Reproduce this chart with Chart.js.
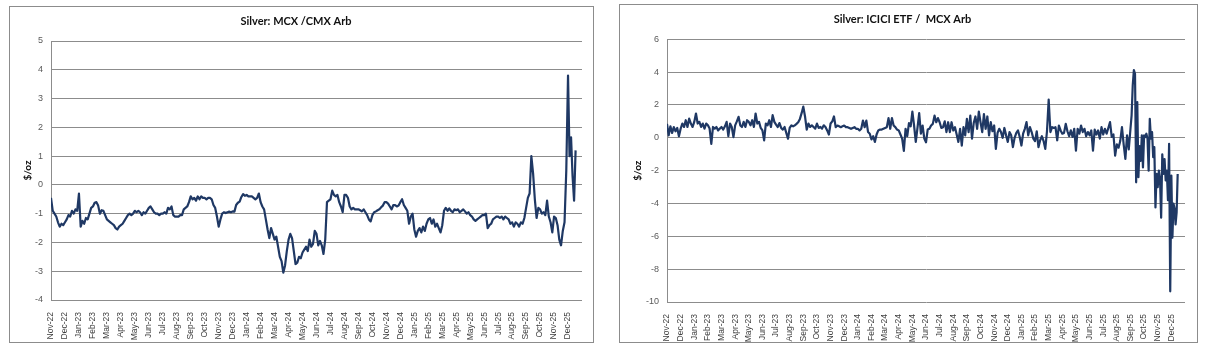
<!DOCTYPE html>
<html><head><meta charset="utf-8">
<script src="https://cdn.jsdelivr.net/npm/chart.js@4.4.1/dist/chart.umd.min.js"></script>
<style>
html,body{margin:0;padding:0;background:#fff;width:1213px;height:355px;overflow:hidden;}
.frame{position:absolute;border:1px solid #8c8c8c;background:#fff;}
#f1{left:9px;top:6px;width:583px;height:335px;}
#f2{left:619px;top:4px;width:577px;height:337px;}
canvas{display:block;}
</style></head><body>
<div class="frame" id="f1"><canvas id="c1" width="583" height="335"></canvas></div>
<div class="frame" id="f2"><canvas id="c2" width="577" height="337"></canvas></div>
<script>
const monthLabels = ['Nov-22','Dec-22','Jan-23','Feb-23','Mar-23','Apr-23','May-23','Jun-23','Jul-23','Aug-23','Sep-23','Oct-23',
  'Nov-23','Dec-23','Jan-24','Feb-24','Mar-24','Apr-24','May-24','Jun-24','Jul-24','Aug-24','Sep-24','Oct-24',
  'Nov-24','Dec-24','Jan-25','Feb-25','Mar-25','Apr-25','May-25','Jun-25','Jul-25','Aug-25','Sep-25','Oct-25','Nov-25','Dec-25'];

// Silver: MCX / CMX Arb ($/oz), values per month (Nov-22 .. Dec-25)
const mcxCmxArb = [
  [-0.45,-0.9,-1.0,-1.1,-1.3,-1.45,-1.35,-1.4],
  [-1.3,-1.2,-1.05,-1.1,-0.9,-1.0,-0.85,-0.9],
  [-0.3,-1.45,-1.25,-1.35,-1.15,-1.2,-1.0,-0.8],
  [-0.75,-0.62,-0.6,-0.72,-1.0,-0.88,-0.9,-1.05],
  [-1.2,-1.25,-1.3,-1.35,-1.4,-1.5,-1.55,-1.45],
  [-1.4,-1.35,-1.25,-1.15,-1.05,-1.0,-1.05,-1.0],
  [-0.9,-0.95,-0.9,-0.95,-1.05,-0.95,-1.0,-0.9],
  [-0.8,-0.75,-0.85,-0.95,-1.0,-1.0,-1.05,-1.0],
  [-1.0,-0.95,-1.0,-0.8,-0.85,-0.75,-1.05,-1.1],
  [-1.1,-1.1,-1.05,-1.05,-0.85,-0.8,-0.75,-0.6],
  [-0.4,-0.5,-0.45,-0.55,-0.4,-0.5,-0.4,-0.45],
  [-0.45,-0.5,-0.45,-0.45,-0.5,-0.7,-0.8,-1.1],
  [-1.45,-1.2,-1.0,-0.95,-0.98,-0.95,-0.93,-0.95],
  [-0.92,-0.93,-0.7,-0.62,-0.58,-0.42,-0.32,-0.38],
  [-0.35,-0.4,-0.4,-0.4,-0.45,-0.5,-0.45,-0.3],
  [-0.6,-0.75,-0.85,-1.2,-1.55,-1.85,-1.5,-1.7],
  [-1.9,-1.8,-2.15,-2.5,-2.65,-3.05,-2.8,-2.3],
  [-1.9,-1.7,-1.85,-2.3,-2.75,-2.7,-2.5,-2.55],
  [-2.35,-2.25,-2.15,-2.3,-1.9,-2.15,-2.05,-1.6],
  [-1.7,-2.1,-1.95,-2.1,-2.4,-1.9,-0.6,-0.55],
  [-0.5,-0.2,-0.35,-0.4,-0.35,-0.6,-0.75,-0.95],
  [-0.35,-0.35,-0.45,-0.75,-0.85,-0.8,-0.85,-0.85],
  [-0.85,-0.88,-0.92,-0.85,-0.95,-1.05,-1.2,-1.27],
  [-1.05,-0.95,-0.92,-0.88,-0.85,-0.78,-0.72,-0.6],
  [-0.6,-0.65,-0.75,-0.85,-0.7,-0.7,-0.75,-0.72],
  [-0.6,-0.5,-0.7,-0.8,-0.9,-1.35,-1.1,-1.0],
  [-1.55,-1.8,-1.6,-1.5,-1.65,-1.45,-1.6,-1.35],
  [-1.2,-1.15,-1.35,-1.2,-1.45,-1.35,-1.5,-1.65],
  [-1.4,-0.9,-0.8,-0.9,-0.82,-0.9,-0.95,-0.85],
  [-0.88,-0.85,-0.95,-0.9,-0.85,-0.92,-1.0,-0.95],
  [-1.05,-1.1,-1.2,-1.25,-1.2,-1.15,-1.1,-1.05],
  [-1.05,-1.0,-1.5,-1.4,-1.35,-1.2,-1.15,-1.1],
  [-1.1,-1.15,-1.1,-1.2,-1.1,-1.15,-1.2,-1.35],
  [-1.3,-1.45,-1.3,-1.35,-1.45,-1.3,-1.35,-1.15],
  [-0.8,-0.45,-0.3,1.0,0.4,-0.5,-1.15,-0.8],
  [-0.85,-1.0,-0.95,-1.05,-0.55,-1.1,-1.3,-1.65],
  [-1.1,-1.15,-1.4,-1.9,-2.1,-1.6,-1.3,0.5],
  [3.8,1.0,1.65,0.3,-0.55,1.2]
];

// Silver: ICICI ETF / MCX Arb ($/oz), values per month (Nov-22 .. Dec-25)
const iciciMcxArb = [
  [0.85,0.15,0.7,0.3,0.65,0.4,0.6,0.1],
  [0.55,0.87,0.66,1.07,0.66,1.17,0.87,0.66],
  [0.97,1.48,0.87,0.97,0.66,0.87,0.56,0.87],
  [0.76,0.56,-0.37,0.66,0.56,0.66,0.45,0.56],
  [0.66,0.5,0.7,0.97,0.1,0.87,0.66,0.04],
  [0.76,1.0,1.28,0.76,0.66,0.97,0.66,1.07],
  [0.97,0.76,1.07,0.66,1.48,0.87,0.97,0.6],
  [0.45,-0.16,0.87,0.76,1.07,0.66,1.38,0.97],
  [0.8,0.66,0.9,0.6,0.5,0.66,0.3,-0.06],
  [0.6,0.76,0.7,0.76,0.85,0.95,1.15,1.5],
  [1.9,1.3,0.5,0.87,0.66,0.76,0.66,0.56],
  [0.87,0.6,0.66,0.56,0.76,0.66,0.45,0.2],
  [0.87,1.0,1.3,0.65,0.75,0.7,0.65,0.7],
  [0.75,0.65,0.65,0.6,0.55,0.6,0.65,0.55],
  [0.55,0.45,0.55,1.05,0.65,1.05,0.35,0.25],
  [-0.1,0.1,-0.25,0.2,0.45,0.5,0.5,0.55],
  [0.6,0.65,1.2,0.55,1.2,0.75,0.65,0.5],
  [0.45,0.2,-0.05,-0.8,0.55,0.1,0.9,0.7],
  [1.6,0.75,-0.25,0.6,1.5,0.25,0.75,-0.05],
  [-0.27,0.5,0.55,0.75,0.85,1.35,0.95,1.2],
  [0.95,0.6,0.65,1.0,0.35,0.95,0.35,0.95],
  [0.45,0.65,0.2,-0.25,0.55,-0.47,0.65,0.15],
  [1.15,0.35,1.35,-0.05,0.9,1.3,0.55,1.6],
  [0.95,0.35,1.45,0.55,1.3,0.15,0.95,0.4],
  [0.75,-0.68,0.3,0.55,0.35,0.0,0.6,0.15],
  [-0.25,0.35,0.15,-0.57,0.0,0.3,0.45,0.05],
  [-0.47,0.25,0.55,0.96,0.15,0.65,0.35,-0.05],
  [-0.2,0.4,-0.57,-0.15,0.1,-0.2,-0.67,0.4],
  [2.33,0.35,0.65,0.6,0.65,-0.15,0.75,0.45],
  [0.25,0.3,0.85,0.4,0.1,0.45,0.05,0.55],
  [-0.78,0.55,0.25,0.75,0.35,0.55,0.1,0.35],
  [0.15,0.45,-0.78,0.5,0.2,0.45,-0.05,0.65],
  [0.2,0.55,0.25,0.6,0.96,0.05,0.2,-1.08],
  [-0.4,-0.6,-0.2,0.65,-0.4,-1.29,0.15,-0.7],
  [0.55,1.37,3.2,4.12,3.9,-2.71,2.18,-2.4,-0.5,-1.4,0.15,-1.8],
  [0.15,0.05,0.25,-0.05,-2.0,1.16,-0.05,0.35,-1.18,-0.57,-4.24,-2.2],
  [-3.0,-2.0,-2.5,-4.86,-1.0,-2.2,-1.3,-2.6,-2.0,-3.8,-0.37,-9.35],
  [-2.3,-6.08,-4.0,-4.3,-5.27,-4.55,-2.2]
];

// fraction of the last month (Dec-25) covered by data
const lastMonthSpan1 = 0.65;
const lastMonthSpan2 = 0.54;

function toPoints(months, lastSpan) {
  const pts = [];
  months.forEach((vals, m) => {
    const span = (m === months.length - 1) ? lastSpan : 1;
    vals.forEach((v, j) => pts.push({x: m + span * j / vals.length, y: v}));
  });
  return pts;
}

function makeChart(id, title, points, yMin, yMax, yStep, yWidth, xHeight, padRight, titlePadBottom) {
  return new Chart(document.getElementById(id), {
    type: 'line',
    data: {datasets: [{data: points, borderColor: '#1f3864', borderWidth: 2.2, pointRadius: 0,
      tension: 0, fill: false, borderJoinStyle: 'round'}]},
    options: {
      responsive: false, animation: false, devicePixelRatio: 1,
      layout: {padding: {left: 0, right: padRight, top: 0, bottom: 0}},
      plugins: {
        legend: {display: false}, tooltip: {enabled: false},
        title: {display: true, text: title, color: '#111',
          font: {family: 'Lato', size: 11, weight: 'bold'},
          padding: {top: 8, bottom: titlePadBottom}}
      },
      scales: {
        x: {
          type: 'linear', min: 0, max: 38,
          grid: {display: false}, border: {display: false},
          afterBuildTicks: s => { s.ticks = monthLabels.map((_, i) => ({value: i})); },
          afterFit: s => { s.height = xHeight; },
          ticks: {autoSkip: false, minRotation: 90, maxRotation: 90, padding: 4, color: '#404040',
            font: {family: 'Liberation Sans', size: 8.5},
            callback: v => monthLabels[v]}
        },
        y: {
          min: yMin, max: yMax,
          ticks: {stepSize: yStep, padding: 8, color: '#595959', font: {family: 'Liberation Sans', size: 9}},
          grid: {color: '#8c8c8c', lineWidth: 1, drawTicks: false},
          border: {display: true, color: '#8c8c8c'},
          title: {display: true, text: '$/oz', color: '#111',
            font: {family: 'Lato', size: 10, weight: 'bold'}, padding: {top: 12, bottom: 0}},
          afterFit: s => { s.width = yWidth; }
        }
      }
    }
  });
}

makeChart('c1', 'Silver: MCX /CMX Arb', toPoints(mcxCmxArb, lastMonthSpan1), -4, 5, 1, 41, 42, 11, 12.8);
makeChart('c2', 'Silver: ICICI ETF /  MCX Arb', toPoints(iciciMcxArb, lastMonthSpan2), -10, 6, 2, 47, 40, 12, 13.1);
</script>
</body></html>
